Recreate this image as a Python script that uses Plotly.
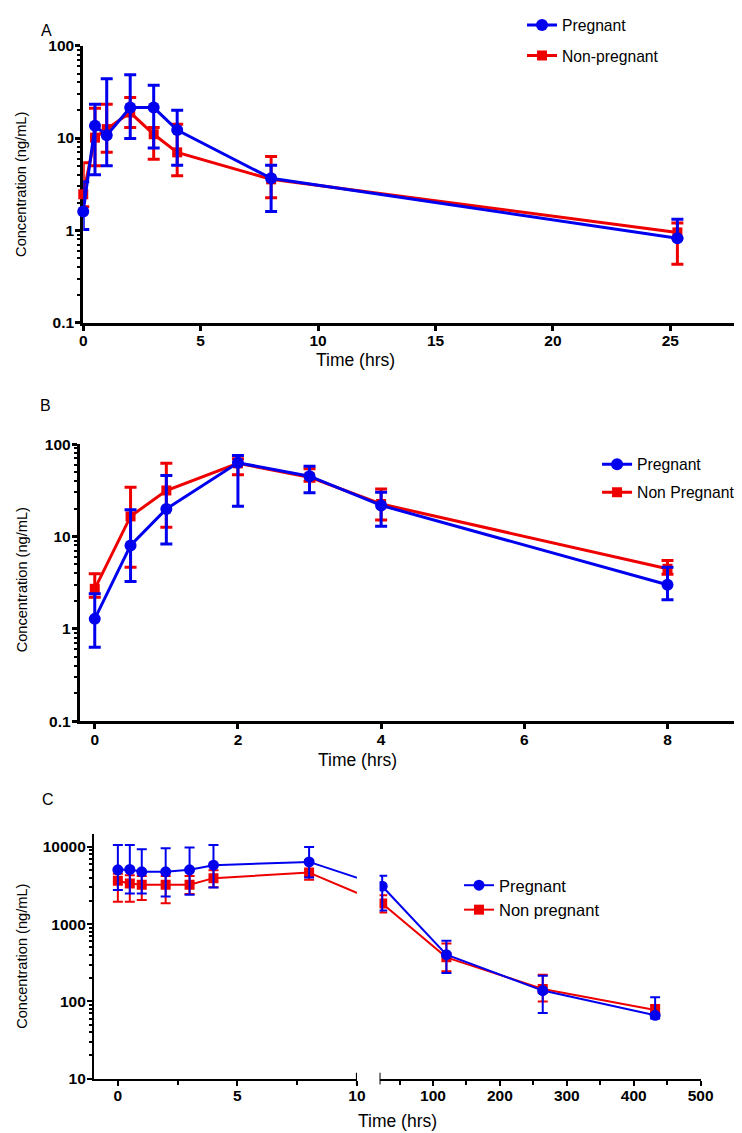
import numpy as np
import plotly.graph_objects as go

# ---------------- data ----------------
# Panel A
A_time = [0, 0.5, 1, 2, 3, 4, 8, 25.3]
A_preg = [1.6, 13.6, 10.7, 21.4, 21.4, 12.2, 3.66, 0.82]
A_preg_hi = [3.37, 23.3, 44.0, 48.5, 37.4, 20.0, 5.07, 1.32]
A_preg_lo = [1.02, 4.0, 5.0, 9.9, 7.8, 5.07, 1.6, 0.82]
A_np = [2.46, 10.1, 12.5, 18.9, 11.0, 7.0, 3.57, 0.95]
A_np_hi = [5.4, 21.0, 23.3, 27.5, 13.0, 14.1, 6.3, 1.2]
A_np_lo = [1.8, 5.0, 7.0, 13.0, 5.9, 3.9, 2.26, 0.43]

# Panel B
B_time = [0, 0.5, 1, 2, 3, 4, 8]
B_preg = [1.28, 8.0, 19.9, 62.9, 45.0, 21.7, 3.0]
B_preg_hi = [2.4, 19.5, 45.8, 75.5, 57.8, 30.2, 4.65]
B_preg_lo = [0.63, 3.25, 8.3, 21.3, 29.7, 12.9, 2.06]
B_np = [2.71, 16.5, 31.5, 62.0, 43.9, 22.5, 4.47]
B_np_hi = [3.94, 34.2, 62.2, 69.5, 54.0, 32.7, 5.5]
B_np_lo = [2.2, 4.65, 12.6, 46.6, 39.7, 15.1, 3.9]

# Panel C
C_time = [0, 0.5, 1, 2, 3, 4, 8, 24, 120, 264, 432]
C_preg = [5050, 5100, 4760, 4760, 5050, 5800, 6400, 3100, 403, 138, 66]
C_preg_hi = [10600, 10600, 9330, 9600, 9800, 10600, 10000, 4220, 611, 215, 113]
C_preg_lo = [2760, 2500, 2500, 2280, 2400, 2980, 4010, 1500, 233, 71, 60]
C_np = [3640, 3360, 3230, 3230, 3230, 3940, 4650, 1850, 372, 145, 77.6]
C_np_hi = [4500, 4300, 4200, 4200, 4200, 5000, 6730, 2370, 562, 222, 90]
C_np_lo = [1950, 1950, 2050, 1870, 2450, 3000, 3750, 1415, 245, 100, 70]

A_names = ["Pregnant", "Non-pregnant"]
B_names = ["Pregnant", "Non Pregnant"]
C_names = ["Pregnant", "Non pregnant"]

A_yticks = [0.1, 1, 10, 100]
A_yticktext = ["0.1", "1", "10", "100"]
A_xticks = [0, 5, 10, 15, 20, 25]
B_xticks = [0, 2, 4, 6, 8]
C_yticks = [10, 100, 1000, 10000]
C_yticktext = ["10", "100", "1000", "10000"]
C_xticks_left = [0, 5, 10]
C_xticks_right = [100, 200, 300, 400, 500]

# ---------------- layout helpers ----------------
W, H = 742, 1133
# measured placement of the figure in the final picture: pic = A * fig + B
AX, BX = 0.9765, 11.3
AY, BY = 0.9836, 18.15
BLUE = "#0000ee"
RED = "#ee0000"
FONT = "Liberation Sans, Arial, sans-serif"
TICKFONT = dict(family=FONT, size=15.5, color="black", weight="bold")
RIGHT_EDGE = BX + AX * W


def fx(px):
    return ((px - BX) / AX) / W


def fy(py):
    return 1 - ((py - BY) / AY) / H


def clamp01(v):
    return min(max(v, 0.0), 1.0)


def axis_range(dom_px, zero_px, px_per_unit):
    return [(dom_px[0] - zero_px) / px_per_unit, (dom_px[1] - zero_px) / px_per_unit]


# pixel geometry of plot areas (picture pixels)
A_x_px, A_y_px = (82.5, min(741, RIGHT_EDGE)), (41, 319)
B_x_px, B_y_px = (79, min(738, RIGHT_EDGE)), (441, 719)
CL_x_px, CR_x_px, C_y_px = (93.2, 356), (378.6, 699.5), (832, 1078)

A_xrange = axis_range(A_x_px, 82.5, 23.47)
B_xrange = axis_range(B_x_px, 94.0, 71.55)
CL_range = [-1, 10]
CR_range = [20, 500]


def minor_log(e0, e1):
    return [m * 10.0 ** e for e in range(e0, e1) for m in range(2, 10)]


def yaxis(dom_px, rng, tickvals, ticktext, minorvals, anchor, lw):
    return dict(type="log", domain=[clamp01(fy(dom_px[1])), clamp01(fy(dom_px[0]))], range=rng,
                tickmode="array", tickvals=tickvals, ticktext=ticktext,
                ticks="outside", ticklen=5, tickwidth=lw, tickcolor="black",
                ticklabelstandoff=-2,
                showline=True, linewidth=lw, linecolor="black", showgrid=False,
                zeroline=False, tickfont=TICKFONT, anchor=anchor, layer="below traces",
                minor=dict(tickmode="array", tickvals=minorvals, ticks="outside",
                           ticklen=3, tickwidth=2, tickcolor="black", showgrid=False))


def xaxis(dom_px, rng, tickvals, anchor, lw, minorvals=None):
    d = dict(domain=[clamp01(fx(dom_px[0])), clamp01(fx(dom_px[1]))], range=rng,
             tickmode="array", tickvals=tickvals,
             ticks="outside", ticklen=5, tickwidth=lw, tickcolor="black",
             ticklabelstandoff=-3,
             showline=True, linewidth=lw, linecolor="black", showgrid=False,
             zeroline=False, tickfont=TICKFONT, anchor=anchor, layer="below traces")
    if minorvals:
        d["minor"] = dict(tickmode="array", tickvals=minorvals, ticks="outside",
                          ticklen=4, tickwidth=lw, tickcolor="black", showgrid=False)
    return d


def series(x, y, hi, lo, color, symbol, size, lw, cap, name, xa, ya, legend, rank, clip=False):
    y = np.asarray(y, float)
    return go.Scatter(
        x=x, y=y, mode="lines+markers", name=name,
        line=dict(color=color, width=lw),
        marker=dict(color=color, symbol=symbol, size=size, line=dict(width=0)),
        error_y=dict(type="data", symmetric=False,
                     array=np.asarray(hi, float) - y, arrayminus=y - np.asarray(lo, float),
                     color=color, thickness=lw, width=cap),
        xaxis=xa, yaxis=ya, legend=legend, legendrank=rank, legendgroup=legend + name,
        cliponaxis=clip)


fig = go.Figure()

# Panel A
fig.add_trace(series(A_time, A_np, A_np_hi, A_np_lo, RED, "square", 10, 3, 6, A_names[1], "x", "y", "legend", 2))
fig.add_trace(series(A_time, A_preg, A_preg_hi, A_preg_lo, BLUE, "circle", 12, 3, 6, A_names[0], "x", "y", "legend", 1))
# Panel B
fig.add_trace(series(B_time, B_np, B_np_hi, B_np_lo, RED, "square", 10, 3, 6, B_names[1], "x2", "y2", "legend2", 2))
fig.add_trace(series(B_time, B_preg, B_preg_hi, B_preg_lo, BLUE, "circle", 12, 3, 6, B_names[0], "x2", "y2", "legend2", 1))

# Panel C (broken x axis: two segments)
ct = np.asarray(C_time, float)
left = ct <= CL_range[1]
right = ~left


def right_to_left_units(t):
    px = CR_x_px[0] + (t - CR_range[0]) * (CR_x_px[1] - CR_x_px[0]) / (CR_range[1] - CR_range[0])
    return CL_range[0] + (px - CL_x_px[0]) * (CL_range[1] - CL_range[0]) / (CL_x_px[1] - CL_x_px[0])


for vals, hi, lo, color, sym, size, nm, rank in [
        (C_np, C_np_hi, C_np_lo, RED, "square", 10, C_names[1], 2),
        (C_preg, C_preg_hi, C_preg_lo, BLUE, "circle", 11, C_names[0], 1)]:
    v = np.asarray(vals, float)
    h = np.asarray(hi, float)
    lw_ = np.asarray(lo, float)
    fig.add_trace(series(ct[left], v[left], h[left], lw_[left], color, sym, size, 2, 5, nm,
                         "x3", "y3", "legend3", rank, clip=True))
    # bridge segment across the axis break (clipped at the end of the left segment)
    i0 = np.where(left)[0][-1]
    i1 = np.where(right)[0][0]
    fig.add_trace(go.Scatter(x=[ct[i0], right_to_left_units(ct[i1])], y=[v[i0], v[i1]],
                             mode="lines", line=dict(color=color, width=2),
                             xaxis="x3", yaxis="y3", showlegend=False, hoverinfo="skip"))
    tr = series(ct[right], v[right], h[right], lw_[right], color, sym, size, 2, 5, nm,
                "x4", "y3", "legend3", rank, clip=True)
    tr.showlegend = False
    fig.add_trace(tr)

C_yrange = [1, 4.172]

fig.update_layout(
    width=W, height=H, autosize=False,
    margin=dict(l=0, r=0, t=0, b=0),
    paper_bgcolor="white", plot_bgcolor="white",
    font=dict(family=FONT, color="black"),
    showlegend=True,
    xaxis=xaxis(A_x_px, A_xrange, A_xticks, "y", 3),
    yaxis=yaxis(A_y_px, [-1, 2], A_yticks, A_yticktext, minor_log(-1, 2), "x", 3),
    xaxis2=xaxis(B_x_px, B_xrange, B_xticks, "y2", 3),
    yaxis2=yaxis(B_y_px, [-1, 2], A_yticks, A_yticktext, minor_log(-1, 2), "x2", 3),
    xaxis3=xaxis(CL_x_px, CL_range, C_xticks_left, "y3", 2, minorvals=[2.5, 7.5]),
    xaxis4=xaxis(CR_x_px, CR_range, C_xticks_right, "y3", 2, minorvals=[50, 150, 250, 350, 450]),
    yaxis3=yaxis(C_y_px, C_yrange, C_yticks, C_yticktext, minor_log(1, 4) + [20000], "x3", 2),
)


def legend_at(text_left_px, first_row_px, size, gap):
    return dict(x=fx(text_left_px - 42), y=fy(first_row_px - 18.5), tracegroupgap=gap,
                bgcolor="rgba(0,0,0,0)", borderwidth=0,
                font=dict(family=FONT, size=size, color="black"),
                traceorder="grouped", xanchor="left", yanchor="top")


fig.update_layout(
    legend=legend_at(563, 22, 15.7, 7),
    legend2=legend_at(638, 463, 15.7, 4.5),
    legend3=legend_at(500, 885, 16.5, 0),
)

# axis break markers
for xr, xv in [("x3", CL_range[1]), ("x4", CR_range[0])]:
    fig.add_shape(type="line", xref=xr, yref="paper", x0=xv, x1=xv,
                  y0=fy(C_y_px[1] + 6), y1=fy(C_y_px[1] - 6),
                  line=dict(color="black", width=2))

ann = []
for txt, px, py in [("A", 46, 26), ("B", 45, 402), ("C", 47, 798)]:
    ann.append(dict(text=txt, x=fx(px), y=fy(py), xref="paper", yref="paper", showarrow=False,
                    font=dict(family=FONT, size=16, color="black"), xanchor="center", yanchor="middle"))
for px, py in [(21, 180), (21, 577), (21, 955)]:
    ann.append(dict(text="Concentration (ng/mL)", x=fx(px), y=fy(py), xref="paper", yref="paper",
                    showarrow=False, textangle=-90,
                    font=dict(family=FONT, size=14.6, color="black"), xanchor="center", yanchor="middle"))
for px, py in [(355, 356), (357, 758), (397, 1121)]:
    ann.append(dict(text="Time (hrs)", x=fx(px), y=fy(py), xref="paper", yref="paper",
                    showarrow=False, font=dict(family=FONT, size=17.5, color="black"),
                    xanchor="center", yanchor="middle"))
fig.update_layout(annotations=ann)

fig.write_html("out.html")
